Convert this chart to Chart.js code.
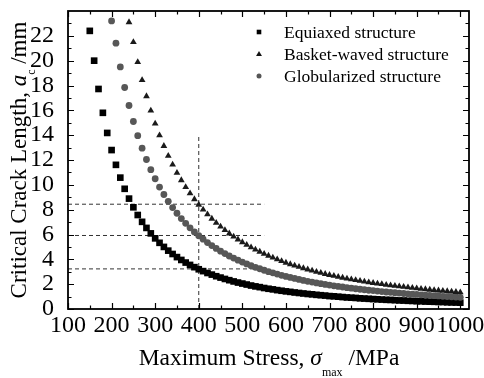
<!DOCTYPE html>
<html>
<head>
<meta charset="utf-8">
<script src="https://cdn.jsdelivr.net/npm/chart.js@4.4.1/dist/chart.umd.min.js"></script>
<style>
    html, body { margin: 0; padding: 0; background: #fff; }
    #wrap { width: 484px; height: 378px; position: relative; }
</style>
</head>
<body>
<div id="wrap"><canvas id="crackChart"></canvas></div>
<script>
var stress = [150, 160, 170, 180, 190, 200, 210, 220, 230, 240,
    250, 260, 270, 280, 290, 300, 310, 320, 330, 340,
    350, 360, 370, 380, 390, 400, 410, 420, 430, 440,
    450, 460, 470, 480, 490, 500, 510, 520, 530, 540,
    550, 560, 570, 580, 590, 600, 610, 620, 630, 640,
    650, 660, 670, 680, 690, 700, 710, 720, 730, 740,
    750, 760, 770, 780, 790, 800, 810, 820, 830, 840,
    850, 860, 870, 880, 890, 900, 910, 920, 930, 940,
    950, 960, 970, 980, 990, 1000];

// each series ends at 1000 MPa; shorter ones start later
var equiaxed = [22.4, 20.0, 17.72, 15.8, 14.18, 12.8, 11.61, 10.58, 9.68, 8.89,
    8.19, 7.57, 7.02, 6.53, 6.09, 5.69, 5.33, 5.0, 4.7, 4.43,
    4.18, 3.95, 3.74, 3.55, 3.37, 3.2, 3.05, 2.9, 2.77, 2.64,
    2.53, 2.42, 2.32, 2.22, 2.13, 2.05, 1.97, 1.89, 1.82, 1.76,
    1.69, 1.63, 1.58, 1.52, 1.47, 1.42, 1.38, 1.33, 1.29, 1.25,
    1.21, 1.18, 1.14, 1.11, 1.08, 1.04, 1.02, 0.99, 0.96, 0.93,
    0.91, 0.89, 0.86, 0.84, 0.82, 0.8, 0.78, 0.76, 0.74, 0.73,
    0.71, 0.69, 0.68, 0.66, 0.65, 0.63, 0.62, 0.6, 0.59, 0.58,
    0.57, 0.56, 0.54, 0.53, 0.52, 0.51];

var globularized = [23.2, 21.41, 19.5, 17.84, 16.39, 15.1, 13.96, 12.95, 12.04, 11.22,
    10.49, 9.82, 9.22, 8.67, 8.17, 7.71, 7.28, 6.9, 6.54, 6.21,
    5.9, 5.62, 5.35, 5.11, 4.88, 4.66, 4.46, 4.27, 4.1, 3.93,
    3.78, 3.63, 3.49, 3.36, 3.24, 3.12, 3.01, 2.91, 2.81, 2.71,
    2.62, 2.54, 2.46, 2.38, 2.3, 2.23, 2.17, 2.1, 2.04, 1.98,
    1.93, 1.87, 1.82, 1.77, 1.72, 1.68, 1.63, 1.59, 1.55, 1.51,
    1.48, 1.44, 1.4, 1.37, 1.34, 1.31, 1.28, 1.25, 1.22, 1.19,
    1.17, 1.14, 1.12, 1.09, 1.07, 1.05, 1.02, 1.0, 0.98, 0.96,
    0.94];

var basketWaved = [23.1, 21.5, 19.88, 18.44, 17.14, 15.98, 14.93, 13.99, 13.13, 12.34,
    11.63, 10.97, 10.37, 9.82, 9.31, 8.84, 8.4, 8.0, 7.62, 7.27,
    6.94, 6.64, 6.35, 6.08, 5.83, 5.6, 5.38, 5.17, 4.97, 4.78,
    4.61, 4.44, 4.29, 4.14, 4.0, 3.86, 3.73, 3.61, 3.5, 3.39,
    3.28, 3.18, 3.09, 2.99, 2.91, 2.82, 2.74, 2.67, 2.59, 2.52,
    2.45, 2.39, 2.33, 2.27, 2.21, 2.15, 2.1, 2.05, 2.0, 1.95,
    1.9, 1.86, 1.82, 1.78, 1.74, 1.7, 1.66, 1.62, 1.59, 1.55,
    1.52, 1.49, 1.46, 1.43, 1.4, 1.37, 1.34];

var seriesLabels = ['Equiaxed structure', 'Basket-waved structure', 'Globularized structure'];

var xTicks = [100, 200, 300, 400, 500, 600, 700, 800, 900, 1000];
var xMinorTicks = [150, 250, 350, 450, 550, 650, 750, 850, 950];
var yTicks = [0, 2, 4, 6, 8, 10, 12, 14, 16, 18, 20, 22];
var yMinorTicks = [1, 3, 5, 7, 9, 11, 13, 15, 17, 19, 21, 23];

// dashed reading lines
var guideStress = 400;
var guideTop = 14;
var guideLevels = [8.44, 5.92, 3.23];
var guideEnd = 550;

var SERIF = "'Liberation Serif', 'Times New Roman', serif";

function pairs(ys) {
    var off = stress.length - ys.length;
    return ys.map(function (y, i) { return { x: stress[off + i], y: y }; });
}

function marker(ctx, style, x, y, r) {
    ctx.beginPath();
    if (style === 'rect') {
        ctx.rect(x - r, y - r, 2 * r, 2 * r);
    } else if (style === 'triangle') {
        ctx.moveTo(x, y - r * 1.1);
        ctx.lineTo(x + r * 1.05, y + r * 0.75);
        ctx.lineTo(x - r * 1.05, y + r * 0.75);
        ctx.closePath();
    } else {
        ctx.arc(x, y, r, 0, Math.PI * 2);
    }
    ctx.fill();
}

var guides = [{
    type: 'line', label: 'guide', order: 5,
    data: [{ x: guideStress, y: 0 }, { x: guideStress, y: guideTop }]
}];
guideLevels.forEach(function (v) {
    guides.push({ type: 'line', label: 'guide', order: 5,
        data: [{ x: xTicks[0], y: v }, { x: guideEnd, y: v }] });
});
guides.forEach(function (g) {
    g.borderColor = '#333';
    g.borderWidth = 1;
    g.borderDash = [4, 3];
    g.pointRadius = 0;
    g.showLine = true;
    g.fill = false;
});

var legendPlugin = {
    id: 'insideLegend',
    afterDraw: function (chart) {
        var ctx = chart.ctx;
        var styles = ['rect', 'triangle', 'circle'];
        var colors = ['#000', '#111', '#555'];
        var sizes = [2.3, 2.8, 2.5];
        ctx.save();
        ctx.font = '17.5px ' + SERIF;
        ctx.textBaseline = 'middle';
        ctx.textAlign = 'left';
        for (var i = 0; i < 3; i++) {
            var y = 32 + i * 22;
            ctx.fillStyle = colors[i];
            marker(ctx, styles[i], 259, y, sizes[i]);
            ctx.fillStyle = '#000';
            ctx.fillText(seriesLabels[i], 284, y + 1);
        }
        ctx.restore();
    }
};

var framePlugin = {
    id: 'frame',
    afterDraw: function (chart) {
        var ctx = chart.ctx, a = chart.chartArea;
        var xs = chart.scales.x, ys = chart.scales.y;
        ctx.save();
        ctx.strokeStyle = '#000';
        ctx.lineWidth = 1.2;
        ctx.beginPath();
        function xt(v, len) {
            var p = Math.round(xs.getPixelForValue(v)) + 0.5;
            ctx.moveTo(p, a.bottom); ctx.lineTo(p, a.bottom - len);
            ctx.moveTo(p, a.top); ctx.lineTo(p, a.top + len);
        }
        function yt(v, len) {
            var p = Math.round(ys.getPixelForValue(v)) + 0.5;
            ctx.moveTo(a.left, p); ctx.lineTo(a.left + len, p);
            ctx.moveTo(a.right, p); ctx.lineTo(a.right - len, p);
        }
        xTicks.forEach(function (v) { xt(v, 6); });
        xMinorTicks.forEach(function (v) { xt(v, 3.5); });
        yTicks.forEach(function (v) { yt(v, 6); });
        yMinorTicks.forEach(function (v) { yt(v, 3.5); });
        ctx.stroke();
        ctx.lineWidth = 1.8;
        ctx.strokeRect(a.left, a.top, a.right - a.left, a.bottom - a.top);
        ctx.restore();
    }
};

function drawParts(ctx, parts, startX) {
    var x = startX;
    parts.forEach(function (p) {
        ctx.font = p.font;
        ctx.fillText(p.text, x, p.dy || 0);
        x += ctx.measureText(p.text).width;
    });
}
function partsWidth(ctx, parts) {
    var w = 0;
    parts.forEach(function (p) { ctx.font = p.font; w += ctx.measureText(p.text).width; });
    return w;
}

var titlePlugin = {
    id: 'axisTitles',
    afterDraw: function (chart) {
        var ctx = chart.ctx;
        ctx.save();
        ctx.fillStyle = '#000';
        ctx.textBaseline = 'alphabetic';
        ctx.textAlign = 'left';

        var xParts = [
            { text: 'Maximum Stress, ', font: '23.5px ' + SERIF },
            { text: 'σ', font: 'italic 23.5px ' + SERIF },
            { text: 'max', font: '12px ' + SERIF, dy: 11 },
            { text: ' /MPa', font: '23.5px ' + SERIF }
        ];
        ctx.save();
        ctx.translate(269, 365);
        drawParts(ctx, xParts, -partsWidth(ctx, xParts) / 2);
        ctx.restore();

        var yParts = [
            { text: 'Critical Crack Length, ', font: '23px ' + SERIF },
            { text: 'a', font: 'italic 23px ' + SERIF },
            { text: 'c', font: '12px ' + SERIF, dy: 9 },
            { text: ' /mm', font: '23px ' + SERIF }
        ];
        ctx.save();
        ctx.translate(26, 160);
        ctx.rotate(-Math.PI / 2);
        drawParts(ctx, yParts, -partsWidth(ctx, yParts) / 2);
        ctx.restore();

        ctx.restore();
    }
};

var ctx = document.getElementById('crackChart').getContext('2d');
new Chart(ctx, {
    type: 'scatter',
    data: {
        datasets: [
            {
                label: seriesLabels[0],
                data: pairs(equiaxed),
                pointStyle: 'rect',
                pointRadius: 4.7,
                backgroundColor: '#000',
                borderWidth: 0,
                order: 3
            },
            {
                label: seriesLabels[1],
                data: pairs(basketWaved),
                pointStyle: 'triangle',
                pointRadius: 3.9,
                backgroundColor: '#1a1a1a',
                borderWidth: 0,
                order: 1
            },
            {
                label: seriesLabels[2],
                data: pairs(globularized),
                pointStyle: 'circle',
                pointRadius: 3.4,
                backgroundColor: '#575757',
                borderWidth: 0,
                order: 2
            }
        ].concat(guides)
    },
    options: {
        responsive: true,
        maintainAspectRatio: false,
        animation: false,
        devicePixelRatio: 1,
        layout: { padding: { left: 0, top: 11, right: 15, bottom: 0 } },
        plugins: {
            legend: { display: false },
            tooltip: { enabled: false }
        },
        scales: {
            x: {
                type: 'linear',
                min: 100,
                max: 1020,
                grid: { display: false },
                border: { display: false },
                afterBuildTicks: function (s) { s.ticks = xTicks.map(function (v) { return { value: v }; }); },
                afterFit: function (s) {
                    s.height = 69;
                    s.paddingLeft = 0; s.paddingRight = 0;
                },
                ticks: {
                    autoSkip: false,
                    maxRotation: 0,
                    minRotation: 0,
                    padding: -6,
                    color: '#000',
                    font: { family: SERIF, size: 24 },
                    callback: function (v) { return String(v); }
                }
            },
            y: {
                min: 0,
                max: 24,
                grid: { display: false },
                border: { display: false },
                afterBuildTicks: function (s) { s.ticks = yTicks.map(function (v) { return { value: v }; }); },
                afterFit: function (s) {
                    s.width = 68;
                    s.paddingTop = 0; s.paddingBottom = 0;
                },
                ticks: {
                    autoSkip: false,
                    padding: 6,
                    color: '#000',
                    font: { family: SERIF, size: 24 },
                    callback: function (v) { return String(v); }
                }
            }
        }
    },
    plugins: [framePlugin, legendPlugin, titlePlugin]
});
</script>
</body>
</html>
